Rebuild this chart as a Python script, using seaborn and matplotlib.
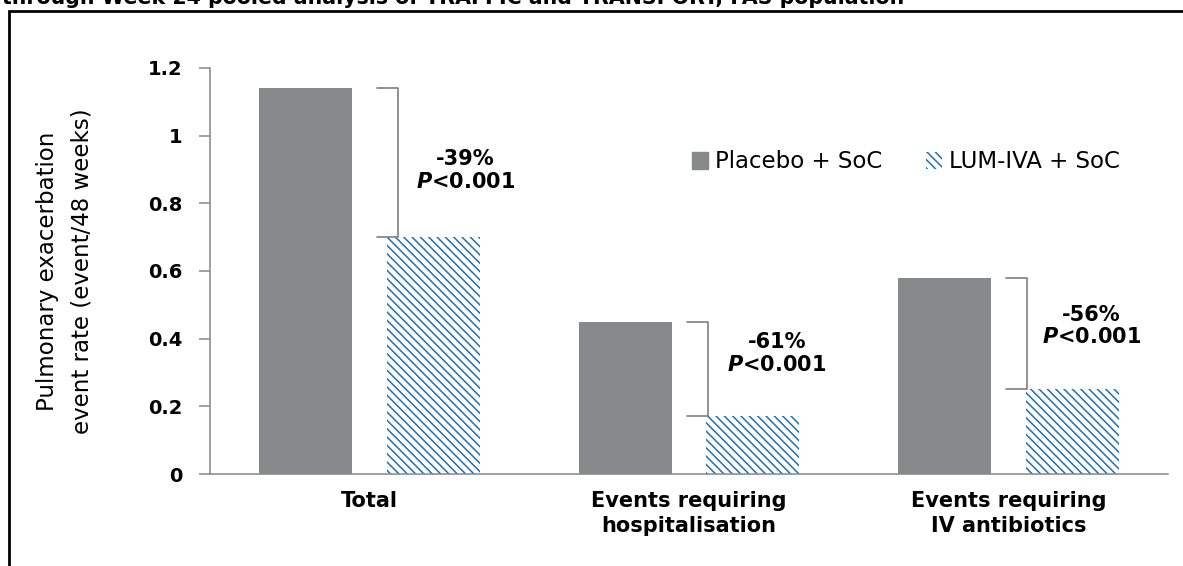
import matplotlib
matplotlib.use("Agg")
import matplotlib.pyplot as plt
import matplotlib.patches as mpatches
import seaborn as sns
import pandas as pd

# ---- data ----
categories = ["Total", "Events requiring\nhospitalisation", "Events requiring\nIV antibiotics"]
groups = ["Placebo + SoC", "LUM-IVA + SoC"]
placebo = [1.14, 0.45, 0.58]
lum_iva = [0.70, 0.17, 0.25]
reductions = ["-39%", "-61%", "-56%"]
pvalues = ["<0.001", "<0.001", "<0.001"]
yticks = [0, 0.2, 0.4, 0.6, 0.8, 1.0, 1.2]
ytick_labels = ["0", "0.2", "0.4", "0.6", "0.8", "1", "1.2"]
title = "through Week 24 pooled analysis of TRAFFIC and TRANSPORT, FAS population"
ylabel = "Pulmonary exacerbation\nevent rate (event/48 weeks)"

# annotation layout (offsets, not data)
text_dx = [0.30, 0.275, 0.26]
text_y = [0.897, 0.356, 0.437]
bracket_dx = [0.035, 0.005, 0.005]

GRAY = "#87898A"
BLUE = "#2270AE"
AXC = "#868686"

df = pd.DataFrame({
    "category": categories * 2,
    "group": [groups[0]] * 3 + [groups[1]] * 3,
    "rate": placebo + lum_iva,
})

sns.set_style("white")
plt.rcParams["font.family"] = ["DejaVu Sans"]
plt.rcParams["hatch.linewidth"] = 1.1
plt.rcParams["mathtext.fontset"] = "dejavusans"
plt.rcParams["text.color"] = "black"
plt.rcParams["axes.labelcolor"] = "black"
plt.rcParams["xtick.color"] = "black"
plt.rcParams["ytick.color"] = "black"

fig = plt.figure(figsize=(11.83, 5.66), dpi=100)
ax = fig.add_axes([210 / 1183, 92 / 566, 958 / 1183, 406 / 566])

sns.barplot(data=df, x="category", y="rate", hue="group", order=categories,
            hue_order=groups, palette=[GRAY, BLUE], width=0.8, gap=0.27,
            legend=False, ax=ax, errorbar=None, saturation=1)

for p in ax.containers[0]:
    p.set_facecolor(GRAY)
    p.set_edgecolor(GRAY)
    p.set_linewidth(0)
for p in ax.containers[1]:
    p.set_facecolor("white")
    p.set_edgecolor(BLUE)
    p.set_linewidth(0)
    p.set_hatch("\\\\\\\\")

ax.set_xlim(-0.5, 2.5)
ax.set_ylim(0, 1.2)
ax.set_yticks(yticks)
ax.set_yticklabels(ytick_labels, fontsize=14, fontweight="bold")
ax.set_xticks([-0.5, 0.5, 1.5, 2.5])
ax.set_xticklabels([])
ax.set_xticks([0, 1, 2], minor=True)
ax.set_xticklabels(categories, minor=True, fontsize=15, fontweight="bold",
                   linespacing=1.35)
ax.tick_params(axis="x", which="minor", length=0, pad=12)
ax.tick_params(axis="x", which="major", length=9, width=1.1, color=AXC, direction="out")
ax.tick_params(axis="y", length=8, width=1.1, color=AXC, direction="out", pad=12,
               left=True, labelcolor="black")
ax.set_xlabel("")
ax.set_ylabel(ylabel, fontsize=16.5, linespacing=1.6)
ax.yaxis.set_label_coords(-0.122, 0.5)

for s in ["top", "right"]:
    ax.spines[s].set_visible(False)
for s in ["left", "bottom"]:
    ax.spines[s].set_color(AXC)
    ax.spines[s].set_linewidth(1.1)

# brackets and annotations
for i, c in enumerate(ax.containers[1]):
    x_left = c.get_x() + bracket_dx[i]
    top = placebo[i]
    bot = lum_iva[i]
    tick = 0.065
    ax.plot([x_left - tick, x_left, x_left, x_left - tick], [top, top, bot, bot],
            color="#7F7F7F", lw=1.2, clip_on=False)
    xc = i + text_dx[i]
    ax.text(xc, text_y[i], reductions[i] + "\n" + r"$\mathbfit{P}$" + pvalues[i],
            ha="center", va="center", fontsize=15, fontweight="bold",
            linespacing=1.15, color="black")

# legend
handles = [mpatches.Patch(facecolor=GRAY, edgecolor=GRAY, label=groups[0]),
           mpatches.Patch(facecolor="white", edgecolor=BLUE, hatch="\\\\\\\\",
                          linewidth=0, label=groups[1])]
fig.legend(handles=handles, loc="center left", bbox_to_anchor=(692 / 1183, 1 - 162 / 566),
           ncol=2, frameon=False, fontsize=16.5, handlelength=0.7, handleheight=0.7,
           handletextpad=0.3, columnspacing=1.9, borderpad=0, borderaxespad=0)

# cut-off title and outer frame
fig.text(2 / 1183, 1 - 4 / 566, title, ha="left", va="baseline",
         fontsize=14.8, fontweight="bold", color="black")
fig.patches.append(mpatches.Rectangle((9 / 1183, -0.1), 1.2, 1 - 11 / 566 + 0.1,
                                      transform=fig.transFigure, fill=False,
                                      edgecolor="black", linewidth=2, zorder=10))

fig.savefig("out.png", dpi=100)
